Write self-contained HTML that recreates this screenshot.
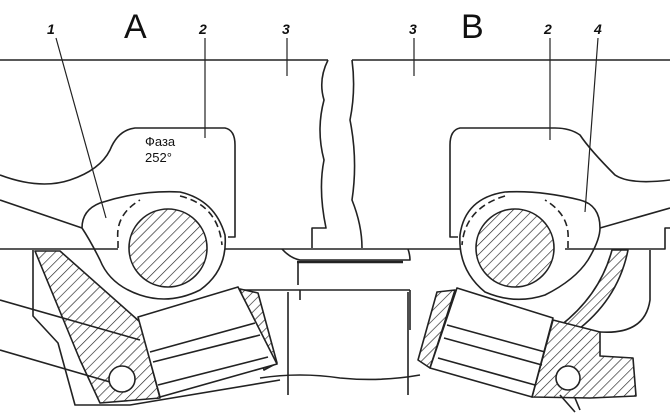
<!DOCTYPE html>
<html><head><meta charset="utf-8"><style>
html,body{margin:0;padding:0;background:#fff;width:670px;height:420px;overflow:hidden}
svg{display:block}
</style></head><body>
<svg width="670" height="420" viewBox="0 0 670 420" xmlns="http://www.w3.org/2000/svg">
<defs>
<pattern id="h" width="7" height="7" patternUnits="userSpaceOnUse" patternTransform="rotate(45)">
<rect width="7" height="7" fill="#fff"/><line x1="0" y1="0" x2="0" y2="7" stroke="#222" stroke-width="1.3"/>
</pattern>
</defs>
<g fill="none" stroke="#222" stroke-width="1.6" stroke-linejoin="round">
<path d="M0 60 H328 M352 60 H670"/>
<path d="M328 60 Q318 80 324 100 Q316 130 324 160 Q318 190 326 228 H312 V248"/>
<path d="M352 60 Q356 90 350 120 Q358 160 352 200 Q362 225 362 248"/>
<path d="M0 249 H118 M225 249 H460 M565 249 H665 V228 H670"/>
<path d="M282 249 Q290 258 300 260 H410 Q410 255 408 249"/>
<path d="M297 262 H403" stroke-width="2.4"/>
<path d="M298 262 V285"/>
<path d="M240 290 H300 M300 290 V300 M300 290 H410 M410 290 V330"/>
<path d="M288 292 V395 M408 292 V395"/>
<!-- left rocker -->
<path d="M0 175 Q40 190 70 180 Q100 170 110 150 Q118 130 135 128 H225 Q235 130 235 145 V237 H228"/>
<path d="M0 200 L82 228"/>
<path d="M82 228 Q82 210 100 203 Q140 190 180 192 Q215 200 225 235 Q228 270 200 290 Q170 305 140 295 Q110 285 100 260 Q90 240 82 228 Z"/>
<path d="M118 248 V240 Q115 215 140 200 M180 196 Q218 205 222 245" stroke-dasharray="7 4"/>
<circle cx="168" cy="248" r="39" fill="url(#h)"/>
<!-- right rocker -->
<path d="M670 180 Q630 185 615 175 Q590 150 580 135 Q570 128 555 128 H460 Q450 130 450 145 V237 H458"/>
<path d="M670 208 L600 228"/>
<path d="M600 228 Q600 205 580 200 Q540 190 505 192 Q465 198 460 235 Q458 270 485 292 Q515 305 545 295 Q575 280 588 260 Q600 240 600 228 Z"/>
<path d="M568 248 V240 Q570 215 545 200 M505 196 Q465 208 462 245" stroke-dasharray="7 4"/>
<circle cx="515" cy="248" r="39" fill="url(#h)"/>
<!-- left lower housing -->
<path d="M33 250 V316 L58 343 L75 405 H130 L280 380"/>
<path d="M35 251 L60 251 L140 322 L160 398 L100 403 L80 360 Z" fill="url(#h)"/>
<path d="M240 289 L258 293 L277 363 L264 370 Z" fill="url(#h)"/>
<path d="M138 317 L238 287 L277 364 L160 397 Z" fill="#fff"/>
<path d="M150 352 L255 323 M153 362 L260 335 M158 385 L268 357"/>
<circle cx="122" cy="379" r="13" fill="#fff"/>
<path d="M0 300 L140 340 M0 350 L110 382"/>
<!-- right lower housing -->
<path d="M437 292 L455 290 L430 368 L418 360 Z" fill="url(#h)"/>
<path d="M628 250 Q618 300 575 332 L560 326 Q600 295 612 250 Z" fill="url(#h)"/>
<path d="M553 320 L600 332 L600 356 L633 358 L636 396 L590 398 L532 397 Z" fill="url(#h)"/>
<path d="M600 332 Q645 335 650 300 V250"/>
<path d="M457 288 L553 318 L532 397 L430 368 Z" fill="#fff"/>
<path d="M447 325 L545 352 M444 338 L542 365 M438 358 L535 385"/>
<circle cx="568" cy="378" r="12" fill="#fff"/>
<path d="M575 398 L580 410 M560 395 L575 412"/>
<path d="M260 378 Q300 372 340 378 Q380 382 420 375"/>
<!-- leaders -->
<path d="M56 38 L106 218 M205 38 V138 M287 38 V76 M414 38 V76 M550 38 V140 M598 38 L585 212" stroke-width="1.2"/>
</g>
<g font-family="Liberation Sans, sans-serif" fill="#111">
<text x="124" y="38" font-size="34">A</text>
<text x="461" y="38" font-size="34">B</text>
<g font-size="14" font-style="italic" font-weight="bold">
<text x="47" y="34">1</text><text x="199" y="34">2</text><text x="282" y="34">3</text>
<text x="409" y="34">3</text><text x="544" y="34">2</text><text x="594" y="34">4</text>
</g>
<text x="145" y="146" font-size="13">Фаза</text>
<text x="145" y="162" font-size="13">252°</text>
</g>
</svg>
</body></html>
